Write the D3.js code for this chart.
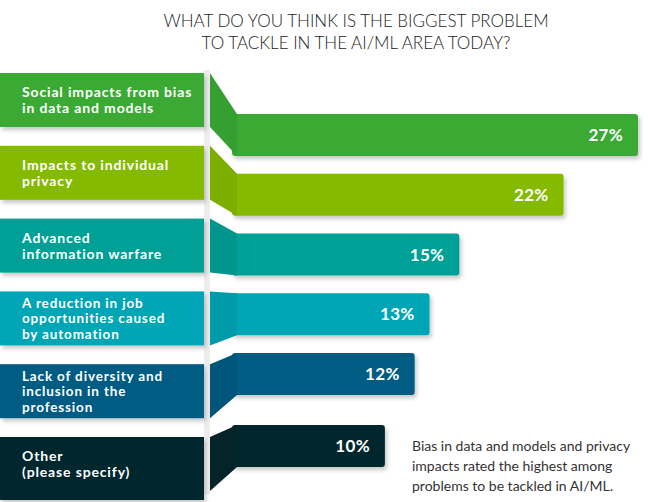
<!DOCTYPE html>
<html>
<head>
<meta charset="utf-8">
<script src="https://cdn.jsdelivr.net/npm/d3@7"></script>
<style>
  html, body { margin: 0; padding: 0; background: #ffffff; }
  svg { display: block; }
</style>
</head>
<body>
<div id="chart"></div>
<script>
// ---------- data ----------
const titleLines = ["WHAT DO YOU THINK IS THE BIGGEST PROBLEM", "TO TACKLE IN THE AI/ML AREA TODAY?"];
const categories = [
  ["Social impacts from bias", "in data and models"],
  ["Impacts to individual", "privacy"],
  ["Advanced", "information warfare"],
  ["A reduction in job", "opportunities caused", "by automation"],
  ["Lack of diversity and", "inclusion in the", "profession"],
  ["Other", "(please specify)"]
];
const values = [27, 22, 15, 13, 12, 10];
const valueLabels = ["27%", "22%", "15%", "13%", "12%", "10%"];
const noteLines = ["Bias in data and models and privacy", "impacts rated the highest among", "problems to be tackled in AI/ML."];
const palette = ["#3aaa35", "#84ba00", "#00a096", "#00a5b6", "#005b83", "#05262d"];

// ---------- layout ----------
const W = 661, H = 502;
const svg = d3.select("#chart").append("svg").attr("width", W).attr("height", H);

const defs = svg.append("defs");
const f = defs.append("filter").attr("id", "shadow").attr("x", "-10%").attr("y", "-20%").attr("width", "130%").attr("height", "160%");
f.append("feDropShadow").attr("dx", 2).attr("dy", 3).attr("stdDeviation", 2.2)
  .attr("flood-color", "#000").attr("flood-opacity", 0.22);

const idx = d3.range(categories.length);
const x = d3.scaleLinear().domain([0, 27]).range([236, 638]);
const yLabel = d3.scaleBand().domain(idx).range([73, 491]).paddingInner(0.258).paddingOuter(0);
const yBar = d3.scaleLinear().domain([0, 4, 5]).range([114, 353, 425]);
const barH = 42;
const labelRight = 204, sepW = 6, connLeft = 210;

// title
svg.append("g").selectAll("text").data(titleLines).join("text")
  .attr("x", 356).attr("y", (d, i) => 27 + i * 22)
  .attr("text-anchor", "middle")
  .attr("font-family", "Lato, 'Open Sans', sans-serif")
  .attr("font-weight", 300)
  .attr("font-size", 17)
  .attr("fill", "#1a1a1a")
  .text(d => d);

// separator
svg.append("rect").attr("x", labelRight).attr("y", 70).attr("width", sepW).attr("height", 424).attr("fill", "#ededed");

const rows = svg.append("g").selectAll("g").data(idx).join("g");

// bars (drawn first so connector overlaps left corners)
rows.append("rect")
  .attr("x", x(0) - 4)
  .attr("y", i => yBar(i))
  .attr("width", i => x(values[i]) - x(0) + 4)
  .attr("height", barH)
  .attr("rx", 3)
  .attr("fill", i => palette[i])
  .attr("filter", "url(#shadow)");

// label boxes
rows.append("rect")
  .attr("x", 0)
  .attr("y", i => yLabel(i))
  .attr("width", labelRight)
  .attr("height", i => i === idx.length - 1 ? H - 2 - yLabel(i) : yLabel.bandwidth())
  .attr("fill", i => palette[i])
  .attr("filter", "url(#shadow)");

// connectors
rows.append("path")
  .attr("d", i => {
    const ly0 = yLabel(i), ly1 = yLabel(i) + yLabel.bandwidth();
    const by0 = yBar(i), by1 = yBar(i) + barH;
    return d3.line()([[connLeft, ly0], [x(0) + 1, by0], [x(0) + 1, by1], [connLeft, ly1]]) + "Z";
  })
  .attr("fill", i => d3.color(palette[i]).darker(0.18).formatHex());

// label text
rows.append("text")
  .attr("font-family", "Lato, 'Open Sans', sans-serif")
  .attr("font-weight", 700)
  .attr("font-size", i => categories[i].length === 3 ? 13.5 : 14)
  .attr("letter-spacing", 0.85)
  .attr("fill", "#ffffff")
  .each(function(i) {
    const lines = categories[i];
    const n = lines.length;
    const lh = n === 3 ? 15.5 : 16;
    const cy = yLabel(i) + yLabel.bandwidth() / 2;
    d3.select(this).selectAll("tspan").data(lines).join("tspan")
      .attr("x", 22)
      .attr("y", (d, k) => cy + (k - (n - 1) / 2) * lh + 5)
      .text(d => d);
  });

// value labels
rows.append("text")
  .attr("x", i => x(values[i]) - 15)
  .attr("y", i => yBar(i) + barH / 2 + 6)
  .attr("text-anchor", "end")
  .attr("font-family", "Lato, 'Open Sans', sans-serif")
  .attr("font-weight", 700)
  .attr("font-size", 17)
  .attr("letter-spacing", 0.3)
  .attr("fill", "#ffffff")
  .text(i => valueLabels[i]);

// note
svg.append("g").selectAll("text").data(noteLines).join("text")
  .attr("x", 412).attr("y", (d, i) => 451 + i * 20)
  .attr("font-family", "Lato, 'Open Sans', sans-serif")
  .attr("font-size", 14)
  .attr("fill", "#333333")
  .text(d => d);
</script>
</body>
</html>
